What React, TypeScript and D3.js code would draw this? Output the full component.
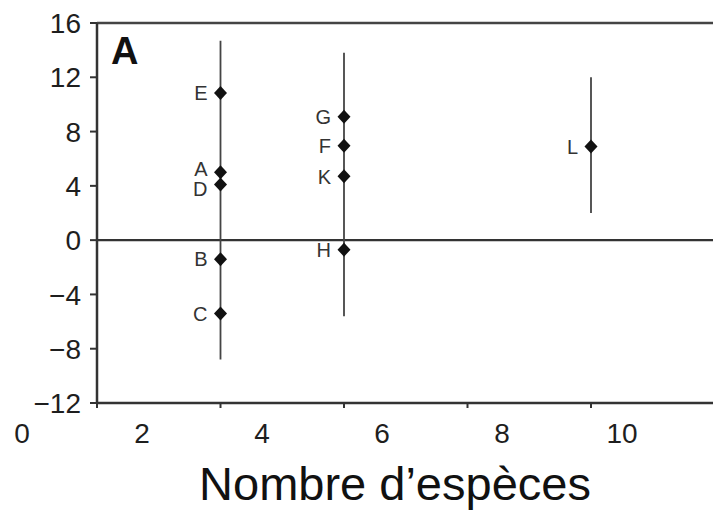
import React from 'react';
import * as d3 from 'd3';

// groups: number of species and the vertical range drawn for each
const groupSpecies = [3, 5, 9];
const groupLow = [-8.8, -5.6, 2.0];
const groupHigh = [14.7, 13.8, 12.0];

// labelled points
const pointNames = ['E', 'A', 'D', 'B', 'C', 'G', 'F', 'K', 'H', 'L'];
const pointSpecies = [3, 3, 3, 3, 3, 5, 5, 5, 5, 9];
const pointValues = [10.85, 5.0, 4.1, -1.4, -5.4, 9.1, 6.95, 4.7, -0.7, 6.9];

const yTicks = [-12, -8, -4, 0, 4, 8, 12, 16];
const xTickMarks = [1, 3, 5, 7, 9];
const xTickLabels = [0, 2, 4, 6, 8, 10];

const W = 713;
const H = 517;
const left = 97;
const top = 23;
const bottom = 403;

const font = '"Liberation Sans", Arial, Helvetica, sans-serif';
const ink = '#1e1e1e';

const App: React.FC = () => {
  const x = d3.scaleLinear().domain([1, 9]).range([left, 591]);
  // tick labels in the figure sit on their own spacing
  const xLab = d3.scaleLinear().domain([0, 10]).range([22, 622]);
  const y = d3.scaleLinear().domain([-12, 16]).range([bottom, top]);
  const fmt = d3.format('d');

  const points = pointNames.map((name, i) => ({
    name,
    cx: x(pointSpecies[i]),
    cy: y(pointValues[i]),
    ly: y(pointValues[i]),
    g: pointSpecies[i],
  }));

  // spread labels that would collide inside the same column
  const minGap = 20;
  groupSpecies.forEach((g) => {
    const pts = points.filter((p) => p.g === g).sort((a, b) => a.cy - b.cy);
    for (let i = 1; i < pts.length; i++) {
      const diff = pts[i].ly - pts[i - 1].ly;
      if (diff < minGap) {
        const s = (minGap - diff) / 2;
        pts[i - 1].ly -= s;
        pts[i].ly += s;
      }
    }
  });

  const diamond = 'M0,-7L6.5,0L0,7L-6.5,0Z';

  return (
    <svg
      width={W}
      height={H}
      style={{ position: 'absolute', left: 0, top: 0, background: '#fff' }}
      fontFamily={font}
    >
      {/* frame */}
      <line x1={left} x2={W} y1={top} y2={top} stroke="#444" strokeWidth={2.5} />
      <line x1={left} x2={W} y1={bottom} y2={bottom} stroke="#333" strokeWidth={2.5} />
      <line x1={left} x2={left} y1={top} y2={bottom} stroke="#333" strokeWidth={2.5} />
      <line x1={left} x2={W} y1={y(0)} y2={y(0)} stroke="#333" strokeWidth={2.2} />

      {/* y axis */}
      {yTicks.map((t) => (
        <g key={t} transform={`translate(0,${y(t)})`}>
          <line x1={left - 7} x2={left} stroke="#333" strokeWidth={2} />
          <text x={81} dy="0.36em" textAnchor="end" fontSize={28} fill={ink}>
            {fmt(t)}
          </text>
        </g>
      ))}

      {/* x axis */}
      {xTickMarks.map((t) => (
        <line key={t} x1={x(t)} x2={x(t)} y1={bottom} y2={bottom + 5} stroke="#333" strokeWidth={2} />
      ))}
      {xTickLabels.map((t) => (
        <text key={t} x={xLab(t)} y={443} textAnchor="middle" fontSize={28} fill={ink}>
          {fmt(t)}
        </text>
      ))}
      <text x={395} y={500} textAnchor="middle" fontSize={47} fill="#111">
        Nombre d’espèces
      </text>

      {/* panel letter */}
      <text x={111} y={64} fontSize={38} fontWeight="bold" fill="#111">
        A
      </text>

      {/* ranges */}
      {groupSpecies.map((g, i) => (
        <line
          key={g}
          x1={x(g)}
          x2={x(g)}
          y1={y(groupHigh[i])}
          y2={y(groupLow[i])}
          stroke="#444"
          strokeWidth={1.8}
        />
      ))}

      {/* points */}
      {points.map((p) => (
        <g key={p.name}>
          <path d={diamond} transform={`translate(${p.cx},${p.cy})`} fill="#111" />
          <text x={p.cx - 13} y={p.ly} dy="0.36em" textAnchor="end" fontSize={20} fill="#333">
            {p.name}
          </text>
        </g>
      ))}
    </svg>
  );
};

export default App;
